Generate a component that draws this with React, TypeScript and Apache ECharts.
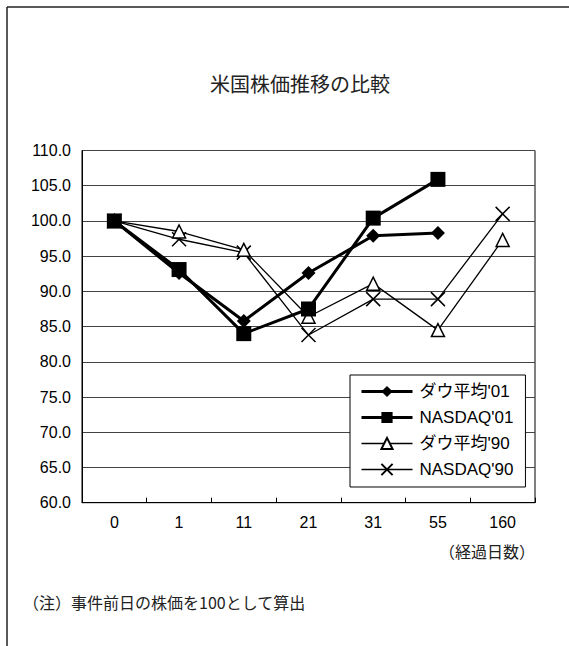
import React, { useEffect, useRef } from "react";
import * as echarts from "echarts";

const categories = ["0", "1", "11", "21", "31", "55", "160"];
const dow01 = [100, 92.6, 85.8, 92.6, 97.9, 98.3, null];
const nasdaq01 = [100, 93.1, 84.0, 87.5, 100.4, 105.9, null];
const dow90 = [100, 98.5, 95.9, 86.4, 91.1, 84.5, 97.3];
const nasdaq90 = [100, 97.4, 95.5, 83.8, 88.9, 88.9, 101.0];
const seriesNames = ["ダウ平均'01", "NASDAQ'01", "ダウ平均'90", "NASDAQ'90"];

const title = "米国株価推移の比較";
const xUnit = "（経過日数）";
const note = "（注）事件前日の株価を100として算出";

const FONT = "'Liberation Sans', Arial, 'Noto Sans CJK JP', sans-serif";
const JFONT = "'Noto Sans CJK JP', 'Liberation Sans', sans-serif";

export default function App() {
  const ref = useRef<HTMLDivElement>(null);
  useEffect(() => {
    if (!ref.current) return;
    const chart = echarts.init(ref.current, undefined, { renderer: "svg" });
    const xSym = "path://M0,0L10,10M10,0L0,10";
    chart.setOption({
      animation: false,
      backgroundColor: "#fff",
      textStyle: { fontFamily: FONT },
      grid: {
        left: 82,
        top: 150.5,
        width: 453,
        height: 352.2,
        show: true,
        borderColor: "#000",
        borderWidth: 1,
        containLabel: false,
      },
      xAxis: {
        type: "category",
        data: categories,
        boundaryGap: true,
        axisLine: { lineStyle: { color: "#000", width: 1 } },
        axisTick: { show: true, inside: true, length: 5, lineStyle: { color: "#000" } },
        axisLabel: { color: "#000", fontSize: 16, fontFamily: FONT, margin: 12, interval: 0 },
      },
      yAxis: {
        type: "value",
        min: 60,
        max: 110,
        interval: 5,
        axisLine: { show: true, lineStyle: { color: "#000", width: 1 } },
        axisTick: { show: false },
        axisLabel: {
          color: "#000",
          fontSize: 16,
          fontFamily: FONT,
          margin: 11,
          formatter: (v: number) => v.toFixed(1),
        },
        splitLine: { lineStyle: { color: "#444", width: 1 } },
      },
      legend: {
        orient: "vertical",
        left: 350,
        top: 375,
        data: [
          { name: seriesNames[0], lineStyle: { width: 3 } },
          { name: seriesNames[1], lineStyle: { width: 3 } },
          { name: seriesNames[2], lineStyle: { width: 1.3 } },
          { name: seriesNames[3], lineStyle: { width: 1.3 } },
        ],
        borderColor: "#000",
        borderWidth: 1,
        backgroundColor: "#fff",
        padding: [8, 12, 9, 10],
        itemWidth: 51,
        itemHeight: 14,
        itemGap: 9,
        textStyle: { color: "#000", fontSize: 17, fontFamily: FONT, padding: [0, 0, 0, 2] },
      },
      series: [
        {
          name: seriesNames[0],
          type: "line",
          data: dow01,
          symbol: "diamond",
          symbolSize: 14,
          lineStyle: { color: "#000", width: 3 },
          itemStyle: { color: "#000" },
          z: 4,
        },
        {
          name: seriesNames[1],
          type: "line",
          data: nasdaq01,
          symbol: "rect",
          symbolSize: 15,
          lineStyle: { color: "#000", width: 3 },
          itemStyle: { color: "#000" },
          z: 5,
        },
        {
          name: seriesNames[2],
          type: "line",
          data: dow90,
          symbol: "triangle",
          symbolSize: 13,
          lineStyle: { color: "#000", width: 1.3 },
          itemStyle: { color: "#fff", borderColor: "#000", borderWidth: 1.5 },
          z: 3,
        },
        {
          name: seriesNames[3],
          type: "line",
          data: nasdaq90,
          symbol: xSym,
          symbolSize: 14,
          lineStyle: { color: "#000", width: 1.3 },
          itemStyle: { color: "none", borderColor: "#000", borderWidth: 1.5 },
          z: 2,
        },
      ],
      graphic: [
        { type: "line", shape: { x1: 7, y1: 7, x2: 569, y2: 7 }, style: { stroke: "#222", lineWidth: 1.5 } },
        { type: "line", shape: { x1: 7, y1: 7, x2: 7, y2: 646 }, style: { stroke: "#222", lineWidth: 1.5 } },
        {
          type: "text",
          x: 300,
          y: 83,
          style: { text: title, fontSize: 20, fontFamily: JFONT, fill: "#222", textAlign: "center", textVerticalAlign: "middle" },
        },
        {
          type: "text",
          x: 535,
          y: 551,
          style: { text: xUnit, fontSize: 16, fontFamily: JFONT, fill: "#222", textAlign: "right", textVerticalAlign: "middle" },
        },
        {
          type: "text",
          x: 23,
          y: 602,
          style: { text: note, fontSize: 16, fontFamily: JFONT, fill: "#222", textAlign: "left", textVerticalAlign: "middle" },
        },
      ],
    });
    return () => chart.dispose();
  }, []);
  return <div ref={ref} style={{ position: "absolute", left: 0, top: 0, width: 569, height: 646 }} />;
}
